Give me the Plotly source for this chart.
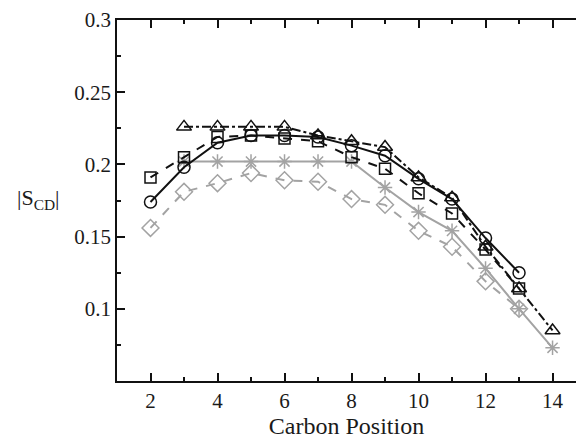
import plotly.graph_objects as go

# Carbon positions
x_circle = [2, 3, 4, 5, 6, 7, 8, 9, 10, 11, 12, 13]
y_circle = [0.174, 0.198, 0.215, 0.220, 0.220, 0.219, 0.213, 0.206, 0.190, 0.176, 0.149, 0.125]

x_square = [2, 3, 4, 5, 6, 7, 8, 9, 10, 11, 12, 13]
y_square = [0.191, 0.205, 0.219, 0.220, 0.218, 0.216, 0.205, 0.197, 0.180, 0.166, 0.141, 0.114]

x_triangle = [3, 4, 5, 6, 7, 8, 9, 10, 11, 12, 13, 14]
y_triangle = [0.226, 0.226, 0.226, 0.226, 0.220, 0.216, 0.212, 0.191, 0.177, 0.143, 0.114, 0.085]

x_star = [3, 4, 5, 6, 7, 8, 9, 10, 11, 12, 13, 14]
y_star = [0.202, 0.202, 0.202, 0.202, 0.202, 0.202, 0.184, 0.167, 0.154, 0.128, 0.100, 0.073]

x_diamond = [2, 3, 4, 5, 6, 7, 8, 9, 10, 11, 12, 13]
y_diamond = [0.156, 0.181, 0.187, 0.194, 0.189, 0.188, 0.176, 0.172, 0.154, 0.143, 0.119, 0.100]

x_ticks = [2, 4, 6, 8, 10, 12, 14]
y_ticks = [0.1, 0.15, 0.2, 0.25, 0.3]
y_tick_text = ["0.1", "0.15", "0.2", "0.25", "0.3"]

GRAY = "#a3a3a3"
BLACK = "#111111"

fig = go.Figure()

fig.add_trace(go.Scatter(
    x=x_diamond, y=y_diamond, mode="lines+markers",
    line=dict(color=GRAY, width=2, dash="dash"),
    marker=dict(symbol="diamond-open", size=13, color=GRAY, line=dict(width=1.5, color=GRAY)),
    showlegend=False))
fig.add_trace(go.Scatter(
    x=x_star, y=y_star, mode="lines+markers",
    line=dict(color=GRAY, width=2),
    marker=dict(symbol="asterisk-open", size=12, color=GRAY, line=dict(width=1.5, color=GRAY)),
    showlegend=False))
fig.add_trace(go.Scatter(
    x=x_square, y=y_square, mode="lines+markers",
    line=dict(color=BLACK, width=2, dash="dash"),
    marker=dict(symbol="square-open", size=11, color=BLACK, line=dict(width=1.5, color=BLACK)),
    showlegend=False))
fig.add_trace(go.Scatter(
    x=x_triangle, y=y_triangle, mode="lines+markers",
    line=dict(color=BLACK, width=2, dash="dashdot"),
    marker=dict(symbol="triangle-up-open", size=13, color=BLACK, line=dict(width=1.5, color=BLACK)),
    showlegend=False))
fig.add_trace(go.Scatter(
    x=x_circle, y=y_circle, mode="lines+markers",
    line=dict(color=BLACK, width=2),
    marker=dict(symbol="circle-open", size=12, color=BLACK, line=dict(width=1.5, color=BLACK)),
    showlegend=False))

font = dict(family="Liberation Serif", size=21, color="#1a1a1a")

fig.update_layout(
    width=576, height=439,
    margin=dict(l=117, r=0, t=20, b=58),
    paper_bgcolor="white", plot_bgcolor="white",
    font=font,
    xaxis=dict(
        range=[1, 14.7], tickvals=x_ticks, ticks="inside", ticklen=8, tickwidth=1.5,
        tickcolor=BLACK, showline=True, linecolor=BLACK, linewidth=1.5, mirror="ticks",
        showgrid=False, zeroline=False,
        minor=dict(dtick=1, tick0=1, ticks="inside", ticklen=4, tickcolor=BLACK, tickwidth=1.5, showgrid=False),
        title=dict(text="Carbon Position", font=dict(family="Liberation Serif", size=24, color="#1a1a1a"), standoff=4),
        tickfont=font,
    ),
    yaxis=dict(
        range=[0.05, 0.3], tickvals=y_ticks, ticktext=y_tick_text, ticks="inside", ticklen=8,
        tickwidth=1.5, tickcolor=BLACK, showline=True, linecolor=BLACK, linewidth=1.5,
        mirror=False, showgrid=False, zeroline=False,
        minor=dict(dtick=0.025, tick0=0.025, ticks="inside", ticklen=4, tickcolor=BLACK, tickwidth=1.5, showgrid=False),
        tickfont=font,
    ),
    annotations=[dict(
        text="|S<sub>CD</sub>|", xref="paper", yref="paper", x=-0.172, y=0.505,
        showarrow=False, font=dict(family="Liberation Serif", size=22, color="#1a1a1a"),
        xanchor="center", yanchor="middle")],
)

fig.write_html("out.html", config={"displayModeBar": False},
               post_script="document.body.style.margin='0';document.body.style.overflow='hidden';")
